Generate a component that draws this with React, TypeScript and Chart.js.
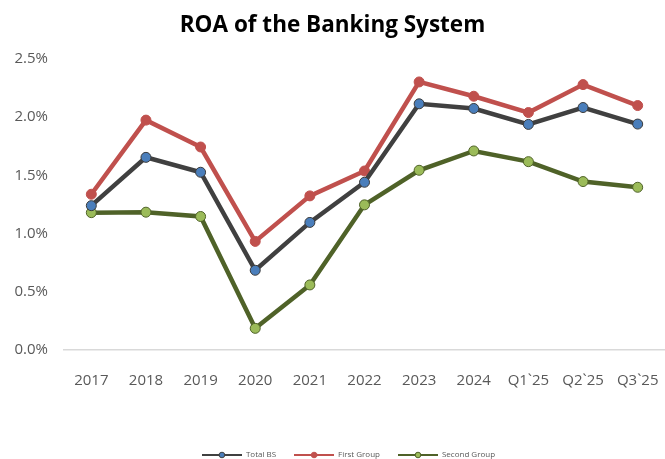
import React, { useEffect, useRef } from "react";
import { Chart, registerables } from "chart.js";

Chart.register(...registerables);

const categories = ["2017", "2018", "2019", "2020", "2021", "2022", "2023", "2024", "Q1`25", "Q2`25", "Q3`25"];
const totalBS = [1.24, 1.655, 1.527, 0.685, 1.096, 1.441, 2.115, 2.075, 1.938, 2.083, 1.941];
const firstGroup = [1.338, 1.975, 1.744, 0.933, 1.324, 1.538, 2.303, 2.18, 2.04, 2.28, 2.1];
const secondGroup = [1.18, 1.184, 1.147, 0.186, 0.559, 1.247, 1.544, 1.71, 1.618, 1.447, 1.398];
const yTicks = [0, 0.5, 1.0, 1.5, 2.0, 2.5];

const FONT = "'Open Sans', 'Liberation Sans', sans-serif";

function legendIcon(line: string, fill: string, border: string): HTMLCanvasElement {
  const c = document.createElement("canvas");
  c.width = 40;
  c.height = 8;
  const ctx = c.getContext("2d")!;
  ctx.strokeStyle = line;
  ctx.lineWidth = 2;
  ctx.beginPath();
  ctx.moveTo(0, 4);
  ctx.lineTo(40, 4);
  ctx.stroke();
  ctx.fillStyle = fill;
  ctx.strokeStyle = border;
  ctx.lineWidth = 1;
  ctx.beginPath();
  ctx.arc(20, 4, 2.8, 0, Math.PI * 2);
  ctx.fill();
  ctx.stroke();
  return c;
}

const legendShift = {
  id: "legendShift",
  afterLayout(chart: any) {
    const lg = chart.legend;
    if (!lg) return;
    const h = lg.bottom - lg.top;
    lg.top = 433;
    lg.bottom = 433 + h;
    lg.left += 16;
    lg.right += 16;
  },
};

export default function App() {
  const ref = useRef<HTMLCanvasElement | null>(null);
  useEffect(() => {
    if (!ref.current) return;
    const icons = [
      legendIcon("#404040", "#4a7ebb", "#404040"),
      legendIcon("#c0504d", "#c0504d", "#c0504d"),
      legendIcon("#4f6228", "#9bbb59", "#4f6228"),
    ];
    const chart = new Chart(ref.current, {
      type: "line",
      plugins: [legendShift],
      data: {
        labels: categories,
        datasets: [
          {
            label: "Total BS",
            data: totalBS,
            borderColor: "#404040",
            backgroundColor: "#4a7ebb",
            pointBackgroundColor: "#4a7ebb",
            pointBorderColor: "#3a3a3a",
            borderWidth: 4.5,
            pointRadius: 5,
            pointBorderWidth: 1,
            tension: 0,
          },
          {
            label: "First Group",
            data: firstGroup,
            borderColor: "#c0504d",
            backgroundColor: "#c0504d",
            pointBackgroundColor: "#c0504d",
            pointBorderColor: "#c0504d",
            borderWidth: 4.5,
            pointRadius: 5,
            pointBorderWidth: 1,
            tension: 0,
          },
          {
            label: "Second Group",
            data: secondGroup,
            borderColor: "#4f6228",
            backgroundColor: "#9bbb59",
            pointBackgroundColor: "#9bbb59",
            pointBorderColor: "#4f6228",
            borderWidth: 4.5,
            pointRadius: 5,
            pointBorderWidth: 1,
            tension: 0,
          },
        ],
      },
      options: {
        animation: false,
        responsive: false,
        maintainAspectRatio: false,
        layout: { autoPadding: false, padding: { left: 0, right: 0, top: 12, bottom: 0 } },
        plugins: {
          title: {
            display: true,
            text: "ROA of the Banking System",
            color: "#000000",
            font: { family: FONT, size: 22.5, weight: "bold" },
            padding: { top: 0, bottom: 20 },
          },
          legend: {
            position: "bottom",
            labels: {
              color: "#595959",
              font: { family: FONT, size: 8 },
              usePointStyle: true,
              pointStyleWidth: 40,
              boxHeight: 8,
              padding: 18,
              generateLabels: (ch: any) =>
                ch.data.datasets.map((ds: any, i: number) => ({
                  text: ds.label,
                  pointStyle: icons[i],
                  fillStyle: "transparent",
                  strokeStyle: "transparent",
                  lineWidth: 0,
                  fontColor: "#595959",
                  datasetIndex: i,
                  hidden: false,
                })),
            },
          },
          tooltip: { enabled: false },
        },
        scales: {
          x: {
            offset: true,
            grid: { display: false, drawTicks: false },
            border: { display: true, color: "#d9d9d9", width: 1.5 },
            ticks: {
              color: "#595959",
              font: { family: FONT, size: 15 },
              padding: 22,
              maxRotation: 0,
              autoSkip: false,
            },
            afterFit: (s: any) => {
              s.height = 73;
              s.paddingLeft = 0;
              s.paddingRight = 0;
            },
          },
          y: {
            min: 0,
            max: 2.5,
            afterBuildTicks: (s: any) => {
              s.ticks = yTicks.map((v) => ({ value: v }));
            },
            grid: { display: false, drawTicks: false },
            border: { display: false },
            ticks: {
              color: "#595959",
              font: { family: FONT, size: 15 },
              padding: 16,
              callback: (v: any) => Number(v).toFixed(1) + "%",
            },
            afterFit: (s: any) => {
              s.width = 64;
              s.paddingTop = 0;
              s.paddingBottom = 0;
            },
          },
        },
      },
    });
    return () => chart.destroy();
  }, []);
  return (
    <div style={{ position: "fixed", left: 0, top: 0, width: 665, height: 459, background: "#fff" }}>
      <canvas ref={ref} width={665} height={459} style={{ width: 665, height: 459 }} />
    </div>
  );
}
